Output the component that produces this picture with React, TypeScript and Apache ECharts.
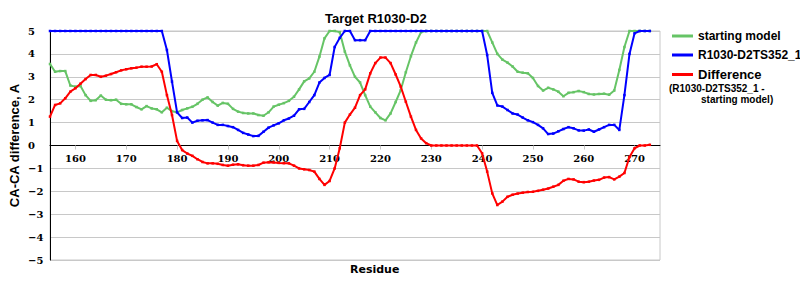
import React, { useEffect, useRef } from "react";
import * as echarts from "echarts";

const residueStart = 155;
const xTickLabels = [160, 170, 180, 190, 200, 210, 220, 230, 240, 250, 260, 270];
const yTickLabels = [-5, -4, -3, -2, -1, 0, 1, 2, 3, 4, 5];

// residues 155..273
const startingModel = [
  3.56, 3.22, 3.25, 3.25, 2.62, 2.57, 2.6, 2.2, 1.95, 1.98,
  2.18, 2.0, 1.98, 2.0, 1.82, 1.8, 1.8, 1.68, 1.58, 1.72,
  1.62, 1.58, 1.45, 1.65, 1.5, 1.45, 1.55, 1.62, 1.69, 1.82,
  2.0, 2.1, 1.9, 1.74, 1.86, 1.82, 1.6, 1.48, 1.42, 1.4,
  1.4, 1.33, 1.3, 1.45, 1.7, 1.78, 1.85, 1.95, 2.13, 2.45,
  2.8, 2.93, 3.22, 3.88, 4.68, 5.0, 5.0, 4.95, 4.1, 3.5,
  3.0, 2.75, 2.2, 1.7, 1.45, 1.2, 1.1, 1.4, 1.9, 2.42,
  3.2, 3.9, 4.5, 4.95, 5.0, 5.0, 5.0, 5.0, 5.0, 5.0,
  5.0, 5.0, 5.0, 5.0, 5.0, 5.0, 5.0, 4.5, 4.0, 3.75,
  3.62, 3.45, 3.22, 3.18, 3.15, 2.95, 2.6, 2.4, 2.52, 2.45,
  2.35, 2.15, 2.3, 2.33, 2.38, 2.33, 2.25, 2.23, 2.25, 2.26,
  2.22, 2.4, 3.3, 4.3, 5.0, 5.0, 5.0, 5.0, 5.0,
];

const model352 = [
  5, 5, 5, 5, 5, 5, 5, 5, 5, 5,
  5, 5, 5, 5, 5, 5, 5, 5, 5, 5,
  5, 5, 5, 4.17, 2.79, 1.45, 1.2, 1.22, 1.0, 1.08,
  1.1, 1.11, 1.0, 0.9, 0.9, 0.85, 0.8, 0.68, 0.55, 0.48,
  0.41, 0.42, 0.6, 0.78, 0.88, 0.97, 1.1, 1.18, 1.3, 1.58,
  1.6, 1.9, 2.2, 2.75, 2.95, 3.08, 4.3, 4.7, 5.0, 5.0,
  4.6, 4.6, 4.6, 5, 5, 5, 5, 5, 5, 5,
  5, 5, 5, 5, 5, 5, 5, 5, 5, 5,
  5, 5, 5, 5, 5, 5, 3.95, 2.3, 1.75, 1.7,
  1.55, 1.4, 1.35, 1.22, 1.1, 1.02, 0.9, 0.75, 0.5, 0.52,
  0.62, 0.72, 0.8, 0.75, 0.66, 0.65, 0.7, 0.6, 0.7, 0.8,
  0.9, 0.9, 0.68, 2.2, 4.0, 4.9, 5, 5, 5,
];

const difference = [
  1.26, 1.77, 1.84, 2.06, 2.35, 2.5, 2.7, 2.9, 3.08, 3.08,
  3.0, 3.05, 3.12, 3.2, 3.28, 3.33, 3.37, 3.4, 3.44, 3.44,
  3.45, 3.55, 3.22, 2.2, 1.33, 0.2, -0.2, -0.35, -0.45, -0.6,
  -0.72, -0.78, -0.78, -0.8, -0.85, -0.88, -0.84, -0.82, -0.86, -0.88,
  -0.88, -0.85, -0.75, -0.73, -0.74, -0.76, -0.77, -0.78, -0.88, -1.0,
  -1.04, -1.07, -1.14, -1.46, -1.72, -1.55, -1.0, -0.12, 1.0, 1.35,
  1.65, 2.2, 2.45, 3.15, 3.6, 3.84, 3.84, 3.6, 3.1, 2.57,
  1.91, 1.26, 0.68, 0.31, 0.1, 0, 0, 0, 0, 0,
  0, 0, 0, 0, 0, -0.34, -1.14, -2.09, -2.6, -2.45,
  -2.24, -2.15, -2.1, -2.06, -2.03, -2.02, -1.98, -1.93, -1.88, -1.8,
  -1.72, -1.54, -1.46, -1.48, -1.58, -1.6, -1.58, -1.53, -1.5, -1.4,
  -1.38, -1.48, -1.36, -1.2, -0.5, -0.12, 0, 0, 0.03,
];

const toPairs = (arr: number[]) => arr.map((v, i) => [residueStart + i, v]);

const SANS = "'Liberation Sans', Arial, sans-serif";
const TICK_FONT = "'DejaVu Serif', serif";
const NAME_FONT = "'DejaVu Sans', Verdana, sans-serif";

const GRID_TOP = 31;
const GRID_BOTTOM = 40;
const CHART_H = 300;

export default function App() {
  const ref = useRef<HTMLDivElement>(null);
  useEffect(() => {
    if (!ref.current) return;
    const chart = echarts.init(ref.current, null, { renderer: "svg" });
    const plotH = CHART_H - GRID_TOP - GRID_BOTTOM;
    const zeroOffset = -plotH / 2; // move x axis up to the y = 0 line
    const lineSeries = (name: string, color: string, data: number[], z: number) => ({
      name,
      type: "line",
      data: toPairs(data),
      symbol: "rect",
      symbolSize: 2.5,
      itemStyle: { color },
      lineStyle: { color, width: 2 },
      z,
    });
    chart.setOption({
      animation: false,
      backgroundColor: "#ffffff",
      title: {
        text: "Target R1030-D2",
        left: 320,
        top: 7,
        textStyle: { fontFamily: SANS, fontWeight: "bold", fontSize: 13, color: "#000" },
      },
      legend: {
        orient: "vertical",
        left: 667,
        top: 25,
        itemGap: 7,
        itemWidth: 21,
        itemHeight: 3,
        icon: "rect",
        data: ["starting model", "R1030-D2TS352_1", "Difference"],
        formatter: (name: string) => (name === "Difference" ? "{d|Difference}" : name),
        textStyle: {
          fontFamily: SANS,
          fontWeight: "bold",
          fontSize: 12,
          color: "#000",
          rich: { d: { fontFamily: SANS, fontWeight: "bold", fontSize: 13, lineHeight: 13, color: "#000" } },
        },
      },
      grid: {
        left: 50,
        right: 140,
        top: GRID_TOP,
        bottom: GRID_BOTTOM,
        outerBoundsMode: "none",
        containLabel: false,
        show: true,
        borderColor: "#c8c8c8",
        borderWidth: 1,
        backgroundColor: "#ffffff",
      },
      xAxis: {
        type: "value",
        min: 155,
        max: 275,
        offset: zeroOffset,
        axisLine: { onZero: false, lineStyle: { color: "#000", width: 1 } },
        axisTick: { show: true, customValues: xTickLabels, length: 4, lineStyle: { color: "#c8c8c8" } },
        axisLabel: {
          customValues: xTickLabels,
          fontFamily: TICK_FONT,
          fontWeight: "bold",
          fontSize: 10,
          color: "#000",
          margin: 8,
        },
        splitLine: { show: false },
      },
      yAxis: {
        type: "value",
        min: -5,
        max: 5,
        interval: 1,
        name: "CA-CA difference, A",
        nameLocation: "middle",
        nameGap: 29,
        nameMoveOverlap: false,
        nameTextStyle: { fontFamily: SANS, fontWeight: "bold", fontSize: 13, color: "#000" },
        axisLine: { show: true, lineStyle: { color: "#000", width: 1 } },
        axisTick: { show: false },
        axisLabel: {
          fontFamily: TICK_FONT,
          fontWeight: "bold",
          fontSize: 10,
          color: "#000",
          align: "left",
          margin: 22,
          formatter: (v: number) =>
            yTickLabels.includes(v) ? (v < 0 ? "\u2212" + String(-v) : String(v)) : "",
        },
        splitLine: { show: true, lineStyle: { color: "#c8c8c8", width: 1 } },
      },
      graphic: [
        {
          type: "text",
          left: 350,
          top: 264,
          style: { text: "Residue", font: `bold 11px ${NAME_FONT}`, fill: "#000" },
        },
        {
          type: "text",
          left: 669,
          top: 83,
          style: { text: "(R1030-D2TS352_1 -", font: `bold 10px ${SANS}`, fill: "#000" },
        },
        {
          type: "text",
          left: 701,
          top: 94,
          style: { text: "starting model)", font: `bold 10px ${SANS}`, fill: "#000" },
        },
      ],
      series: [
        lineSeries("starting model", "#66c466", startingModel, 2),
        lineSeries("R1030-D2TS352_1", "#0000ff", model352, 3),
        lineSeries("Difference", "#ff0000", difference, 4),
      ],
    });
    return () => chart.dispose();
  }, []);
  return <div ref={ref} style={{ width: 800, height: 300, position: "absolute", left: 0, top: 0 }} />;
}
